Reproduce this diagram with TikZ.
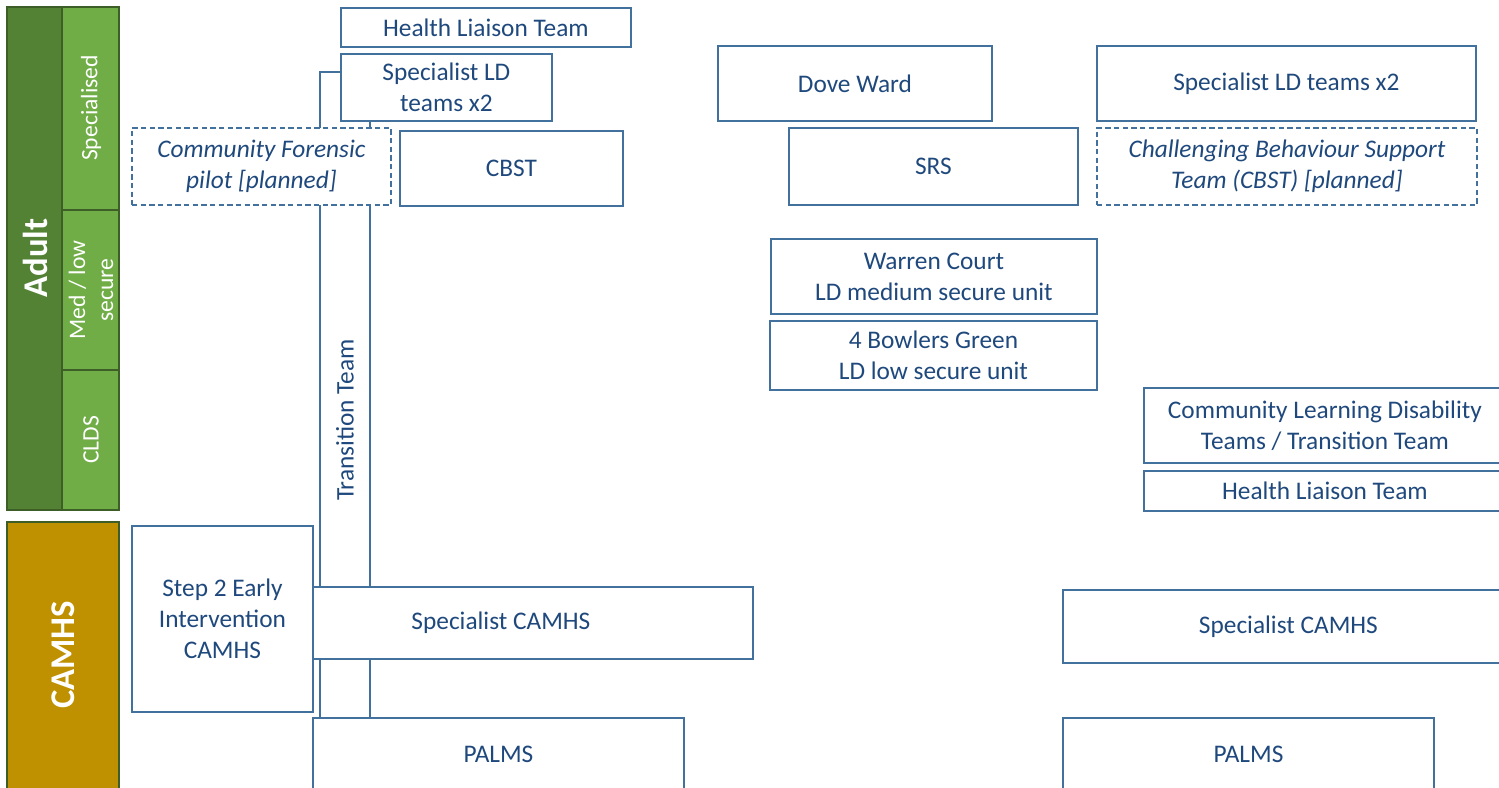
\documentclass[tikz,border=0pt]{standalone}
\usepackage{fontspec}
\setmainfont{Carlito}
\usetikzlibrary{backgrounds}
\definecolor{lineblue}{RGB}{65,113,156}
\definecolor{textblue}{RGB}{31,73,125}
\definecolor{darkgreen}{RGB}{84,130,53}
\definecolor{lightgreen}{RGB}{112,173,71}
\definecolor{edgegreen}{RGB}{61,94,39}
\definecolor{camhsgold}{RGB}{191,144,0}

\begin{document}
\begin{tikzpicture}[x=0.75pt,y=0.75pt,yscale=-1,xscale=1,
  wh/.style 2 args={minimum width=#1*0.75pt, minimum height=#2*0.75pt},
  unitbox/.style={draw=lineblue, fill=white, line width=1.4pt, text=textblue, align=center,
    inner sep=0pt, anchor=north west, font=\fontsize{19}{23.25}\selectfont},
  planned/.style={unitbox, dash pattern=on 4pt off 2.5pt, font=\fontsize{19}{23.25}\selectfont\itshape},
  band/.style={draw=edgegreen, line width=1.4pt},
  bigtag/.style={text=white, rotate=90, inner sep=0pt, font=\fontsize{26}{30}\selectfont\bfseries},
  smalltag/.style={text=white, rotate=90, inner sep=0pt, align=center, font=\fontsize{17.7}{21}\selectfont},
  link/.style={draw=lineblue, line width=1.4pt}
]
\clip (0,0) rectangle (1499,788);

% side bands
\draw [band, fill=darkgreen] (7,7) rectangle (62,510);
\draw [band, fill=lightgreen] (62,7) rectangle (119,210);
\draw [band, fill=lightgreen] (62,210) rectangle (119,370);
\draw [band, fill=lightgreen] (62,370) rectangle (119,510);
\draw [band, fill=camhsgold] (7,522) rectangle (119,800);

\node [bigtag] (adult) at (35,258) {Adult};
\node [smalltag] (specialised) at (91,108) {Specialised};
\node [smalltag] (medlow) at (91,290) {Med / low\\secure};
\node [smalltag] (clds) at (91,440) {CLDS};
\node [bigtag] (camhs) at (63,655) {CAMHS};

% adult services
\node [unitbox, wh={290}{39}] (hltL) at (340,7) {Health Liaison Team};
\node [unitbox, wh={211}{67}] (sldL) at (340,53) {Specialist LD\\teams x2};
\node [planned, wh={259}{77}] (forensic) at (131,127) {Community Forensic\\pilot [planned]};
\node [unitbox, wh={223}{75}] (cbstL) at (399,130) {CBST};
\node [unitbox, wh={274}{75}] (dove) at (717,45) {Dove Ward};
\node [unitbox, wh={289}{77}] (srs) at (788,127) {SRS};
\node [unitbox, wh={379}{75}] (sldR) at (1096,45) {Specialist LD teams x2};
\node [planned, wh={380}{77}] (cbstR) at (1096,127) {Challenging Behaviour Support\\Team (CBST) [planned]};
\node [unitbox, wh={326}{75}] (warren) at (770,238) {Warren Court\\LD medium secure unit};
\node [unitbox, wh={327}{69}] (bowlers) at (769,320) {4 Bowlers Green\\LD low secure unit};
\node [unitbox, wh={362}{75}] (cldt) at (1143,387) {Community Learning Disability\\Teams / Transition Team};
\node [unitbox, wh={362}{40}] (hltR) at (1143,470) {Health Liaison Team};

% camhs services
\node [unitbox, wh={504}{72}] (scamL) at (248,586) {Specialist CAMHS};
\node [unitbox, wh={181}{186}] (step2) at (131,525) {Step 2 Early\\Intervention\\CAMHS};
\node [unitbox, wh={371}{72}] (palmsL) at (312,717) {PALMS};
\node [unitbox, wh={451}{73}] (scamR) at (1062,589) {Specialist CAMHS};
\node [unitbox, wh={371}{72}] (palmsR) at (1062,717) {PALMS};

% transition team bracket
\coordinate (ttleft) at (320,72);
\coordinate (ttright) at (370,72);
\begin{scope}[on background layer]
\draw [link] (sldL.west |- ttleft) -- (ttleft) -- (ttleft |- palmsL.north);
\draw [link] (ttright |- sldL.south) -- (ttright |- palmsL.north);
\end{scope}
\node [rotate=90, text=textblue, inner sep=0pt, font=\fontsize{19}{23.25}\selectfont] (transition) at (345,420) {Transition Team};

\end{tikzpicture}
\end{document}
